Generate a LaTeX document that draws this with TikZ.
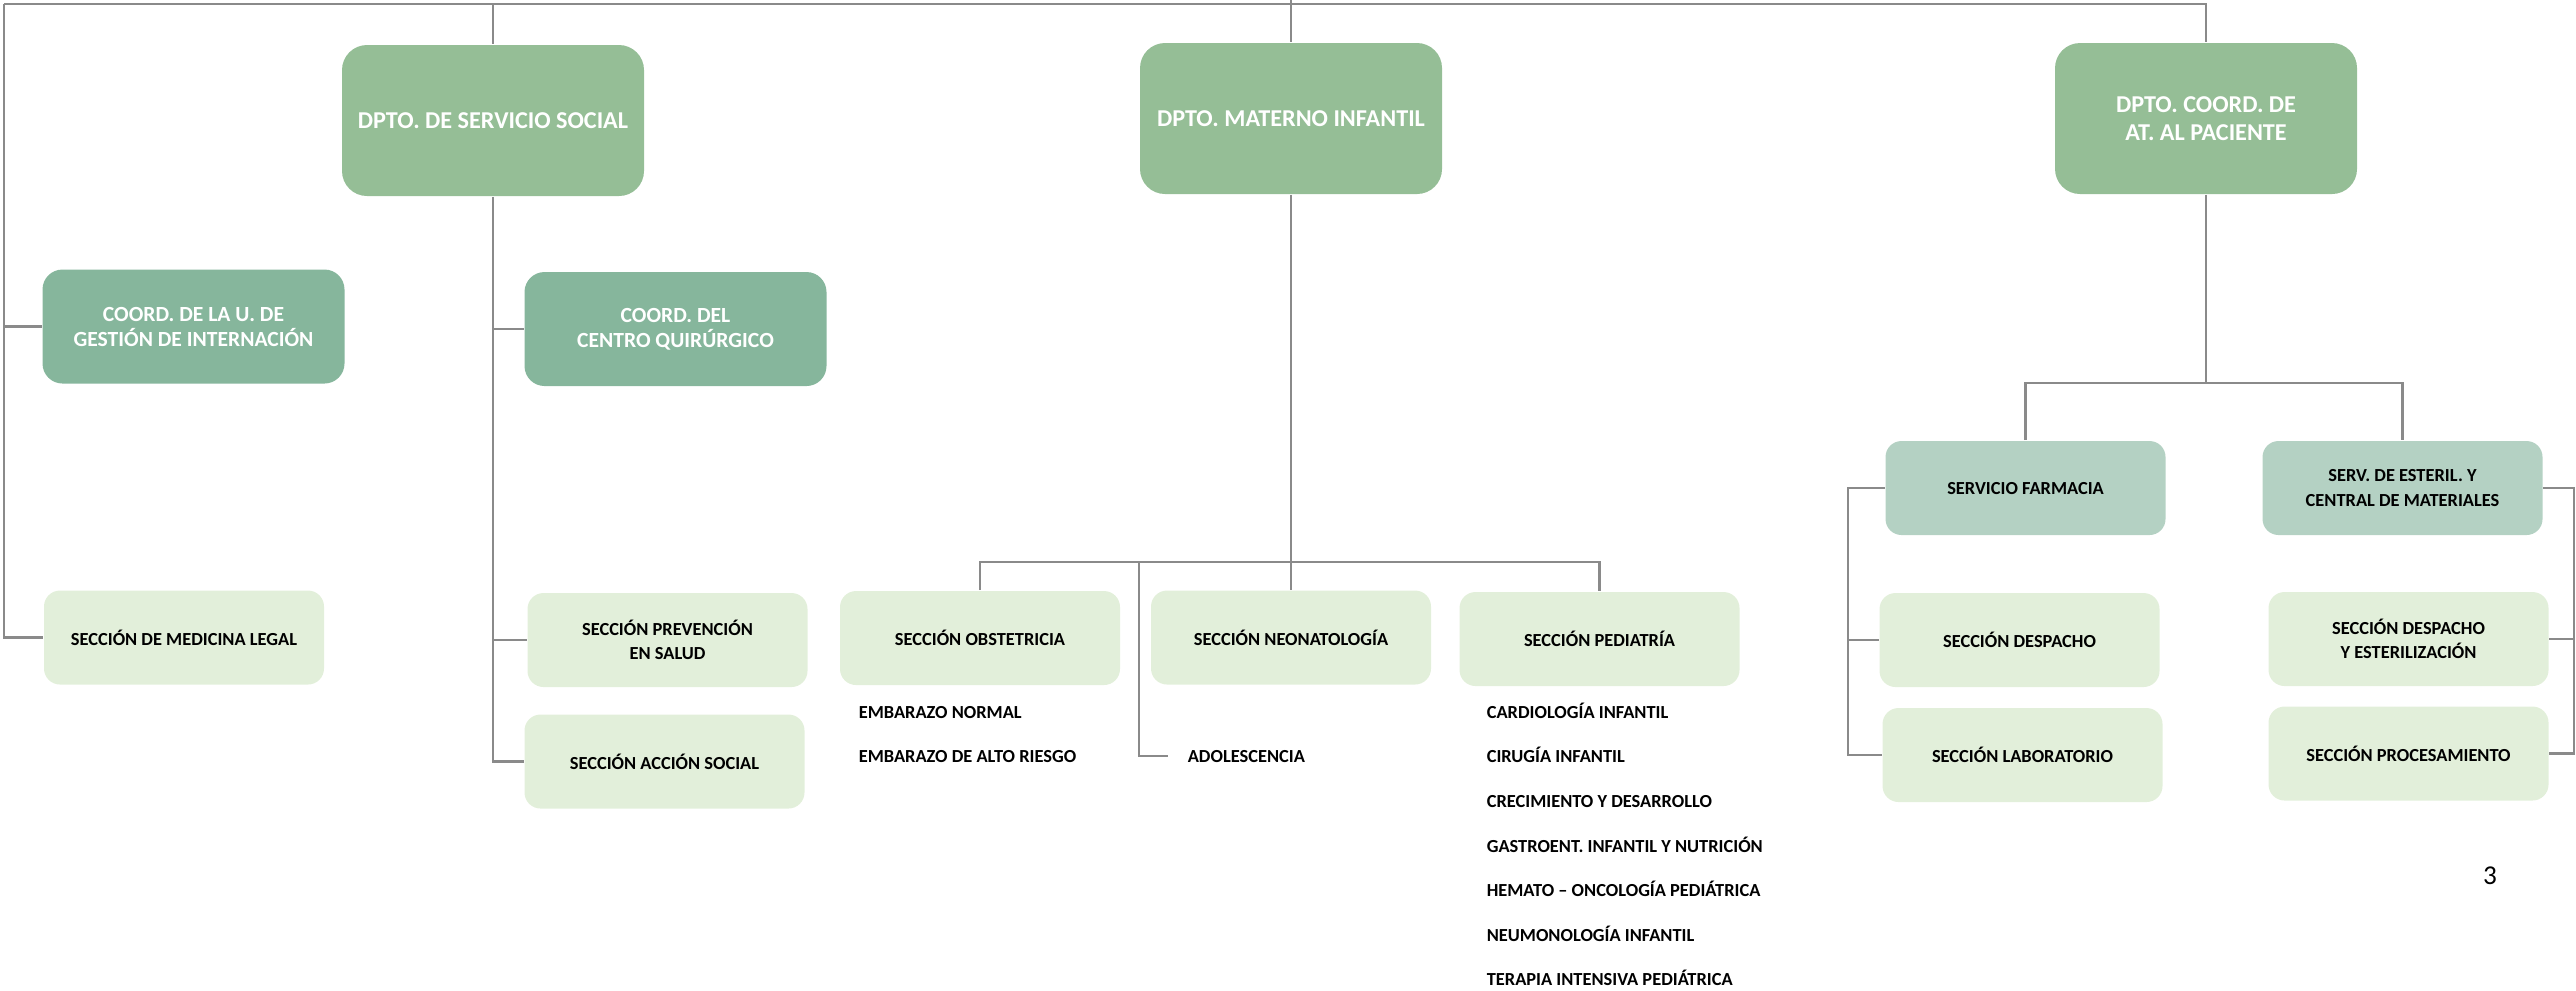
\documentclass[tikz,border=0pt]{standalone}
\usepackage{fontspec}
\setmainfont{Carlito}
\definecolor{dptoc}{HTML}{95BE96}
\definecolor{coordc}{HTML}{86B69C}
\definecolor{servc}{HTML}{B4D1C3}
\definecolor{secc}{HTML}{E2EFDA}
\definecolor{linec}{HTML}{8A8A8A}
\begin{document}
\begin{tikzpicture}[x=0.25pt,y=-0.25pt,
  conn/.style={draw=linec,line width=0.6pt},
  dpto/.style={rounded corners=6.25pt,fill=dptoc,text=white,align=center,inner sep=0pt,
    minimum width=75.5pt,minimum height=37.75pt,font=\fontsize{6.05}{7}\selectfont\bfseries},
  coord/.style={rounded corners=5pt,fill=coordc,text=white,align=center,inner sep=0pt,
    minimum width=75.5pt,minimum height=28.5pt,font=\fontsize{5.4}{6.25}\selectfont\bfseries},
  serv/.style={rounded corners=4pt,fill=servc,text=black,align=center,inner sep=0pt,
    minimum width=70pt,minimum height=23.5pt,font=\fontsize{4.6}{6}\selectfont\bfseries},
  secbox/.style={rounded corners=4pt,fill=secc,text=black,align=center,inner sep=0pt,
    minimum width=70pt,minimum height=23.5pt,font=\fontsize{4.6}{6}\selectfont\bfseries},
  item/.style={anchor=base west,inner sep=0pt,font=\fontsize{4.6}{6}\selectfont\bfseries}]
\useasboundingbox (0,0) rectangle (2576,990);
% top level
\node[dpto] (ssoc) at (493,120.5) {DPTO. DE SERVICIO SOCIAL};
\node[dpto] (mi) at (1291,118.5) {DPTO. MATERNO INFANTIL};
\node[dpto] (pac) at (2206,118.5) {DPTO. COORD. DE\\AT. AL PACIENTE};
% coordinations
\node[coord] (cu) at (193.5,326.5) {COORD. DE LA U. DE\\GESTIÓN DE INTERNACIÓN};
\node[coord] (cq) at (675.5,329) {COORD. DEL\\CENTRO QUIRÚRGICO};
% services
\node[serv] (farm) at (2025.5,488) {SERVICIO FARMACIA};
\node[serv] (est) at (2402.5,488) {SERV. DE ESTERIL. Y\\CENTRAL DE MATERIALES};
% sections
\node[secbox] (ml) at (184,637.5) {SECCIÓN DE MEDICINA LEGAL};
\node[secbox] (pv) at (667.5,640) {SECCIÓN PREVENCIÓN\\EN SALUD};
\node[secbox] (as) at (664.5,761.5) {SECCIÓN ACCIÓN SOCIAL};
\node[secbox] (obst) at (980,638) {SECCIÓN OBSTETRICIA};
\node[secbox] (neo) at (1291,637.5) {SECCIÓN NEONATOLOGÍA};
\node[secbox] (ped) at (1599.5,639) {SECCIÓN PEDIATRÍA};
\node[secbox] (desp) at (2019.5,640) {SECCIÓN DESPACHO};
\node[secbox] (lab) at (2022.5,755) {SECCIÓN LABORATORIO};
\node[secbox] (dest) at (2408.5,639) {SECCIÓN DESPACHO\\Y ESTERILIZACIÓN};
\node[secbox] (proc) at (2408.5,753.5) {SECCIÓN PROCESAMIENTO};
% lists
\node[item] (en) at (858,718) {EMBARAZO NORMAL};
\node[item] (ear) at (858,762) {EMBARAZO DE ALTO RIESGO};
\node[item] (adol) at (1187,762) {ADOLESCENCIA};
\node[item] (p1) at (1486,718) {CARDIOLOGÍA INFANTIL};
\node[item] (p2) at (1486,762) {CIRUGÍA INFANTIL};
\node[item] (p3) at (1486,807) {CRECIMIENTO Y DESARROLLO};
\node[item] (p4) at (1486,852) {GASTROENT. INFANTIL Y NUTRICIÓN};
\node[item] (p5) at (1486,896) {HEMATO – ONCOLOGÍA PEDIÁTRICA};
\node[item] (p6) at (1486,941) {NEUMONOLOGÍA INFANTIL};
\node[item] (p7) at (1486,985) {TERAPIA INTENSIVA PEDIÁTRICA};
\node[font=\fontsize{6.8}{8}\selectfont] (pg) at (2490,876) {3};
% coordinates
\coordinate (topL) at (4,4);
\coordinate (topR) at (2206,4);
\coordinate (topM) at (1291,0);
\coordinate (mbar) at (1291,562);
\coordinate (ajoin) at (1139,562);
\coordinate (aend) at (1168,756);
\coordinate (pbar) at (2206,383);
\coordinate (lbx) at (1848,0);
\coordinate (rbx) at (2574,0);
% connectors
\draw[conn] (topL) -- (topR) -- (pac.north);
\draw[conn] (topM) -- (mi.north);
\draw[conn] (topL) |- (ml.west);
\draw[conn] (cu.west) -- (cu.west -| topL);
\draw[conn] (ssoc.north |- topL) -- (ssoc.north);
\draw[conn] (ssoc.south) |- (as.west);
\draw[conn] (cq.west) -- (cq.west -| ssoc.south);
\draw[conn] (pv.west) -- (pv.west -| ssoc.south);
\draw[conn] (mi.south) -- (neo.north);
\draw[conn] (obst.north) -- (obst.north |- mbar) -- (ped.north |- mbar) -- (ped.north);
\draw[conn] (ajoin) |- (aend);
\draw[conn] (pac.south) -- (pbar);
\draw[conn] (farm.north) -- (farm.north |- pbar) -- (est.north |- pbar) -- (est.north);
\draw[conn] (farm.west) -- (farm.west -| lbx) |- (lab.west);
\draw[conn] (desp.west) -- (desp.west -| lbx);
\draw[conn] (est.east) -- (est.east -| rbx) |- (proc.east);
\draw[conn] (dest.east) -- (dest.east -| rbx);
\end{tikzpicture}
\end{document}
